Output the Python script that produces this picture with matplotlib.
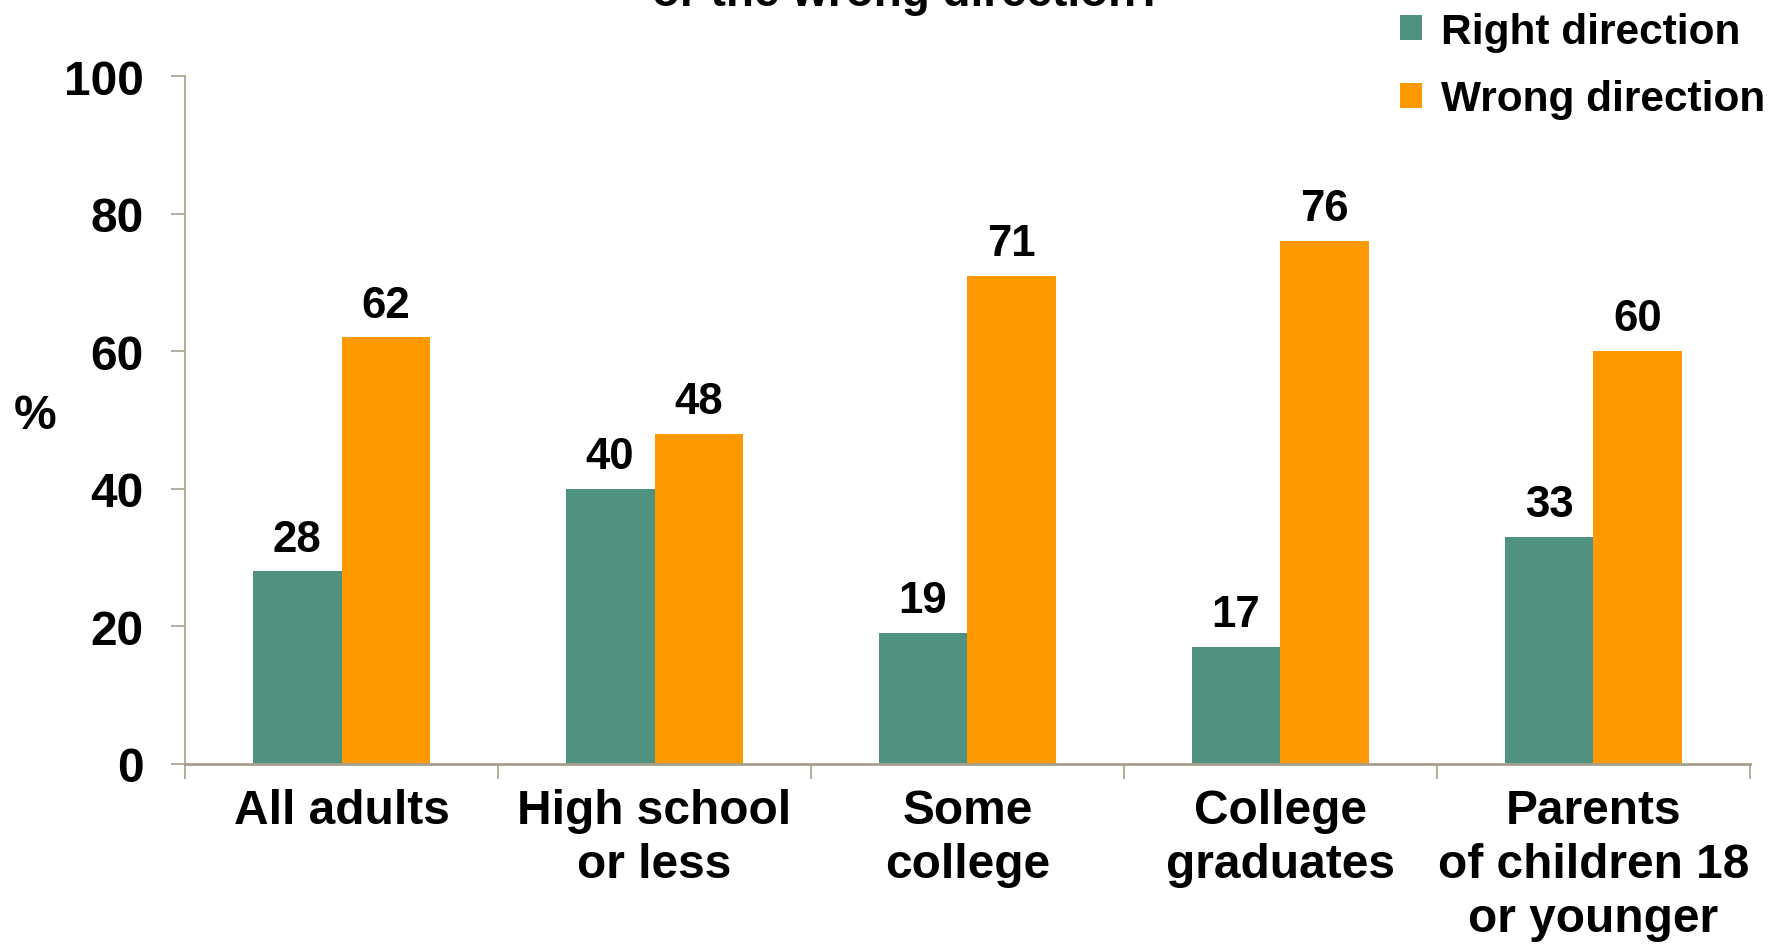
import matplotlib
matplotlib.use("Agg")
import matplotlib.pyplot as plt
import numpy as np

plt.rcParams['font.family'] = ['Liberation Sans', 'DejaVu Sans']
plt.rcParams['font.weight'] = 'bold'

categories = ["All adults", "High school\nor less", "Some\ncollege",
              "College\ngraduates", "Parents\nof children 18\nor younger"]
right_direction = [28, 40, 19, 17, 33]
wrong_direction = [62, 48, 71, 76, 60]
series_names = ["Right direction", "Wrong direction"]
y_ticks = [0, 20, 40, 60, 80, 100]

green = "#4F9280"
orange = "#FF9900"
axis_col = "#A8A08E"

fig = plt.figure(figsize=(17.88, 9.45), dpi=100)
ax = fig.add_axes([0.1035, 0.1905, 0.8752, 0.728])

x = np.arange(len(categories))
w = 0.284
b1 = ax.bar(x - w / 2, right_direction, w, color=green, label=series_names[0])
b2 = ax.bar(x + w / 2, wrong_direction, w, color=orange, label=series_names[1])

for bars, vals in ((b1, right_direction), (b2, wrong_direction)):
    for r, v in zip(bars, vals):
        ax.annotate(str(v), (r.get_x() + r.get_width() / 2, v),
                    xytext=(0, 8.5), textcoords="offset points",
                    ha="center", va="bottom", fontsize=31.5, fontweight="bold")

ax.set_xlim(-0.5, len(categories) - 0.5)
ax.set_ylim(0, 100)
ax.set_yticks(y_ticks)
ax.set_yticklabels([str(t) for t in y_ticks], fontsize=34.5, fontweight="bold")
ax.set_xticks(x)
ax.set_xticklabels(categories, fontsize=34.5, fontweight="bold", linespacing=1.27)
ax.set_xticks(np.arange(-0.5, len(categories)), minor=True)
ax.tick_params(axis="x", which="major", length=0, pad=17)
ax.tick_params(axis="x", which="minor", length=11, width=1.2, color=axis_col, direction="out")
ax.tick_params(axis="y", length=10, width=1.2, color=axis_col, direction="out", pad=20)

for s in ("top", "right"):
    ax.spines[s].set_visible(False)
ax.spines["left"].set_color(axis_col)
ax.spines["left"].set_linewidth(1.2)
ax.spines["bottom"].set_color(axis_col)
ax.spines["bottom"].set_linewidth(2.0)

ax.set_ylabel("%", fontsize=34.5, fontweight="bold", rotation=0, labelpad=0, va="center", ha="center")
ax.yaxis.set_label_coords(-0.096, 0.507)

fig.text(0.508, 1 - 6 / 945, "Do you think things are going in the right direction\nor the wrong direction?",
         ha="center", va="baseline", fontsize=33, fontweight="bold", linespacing=1.0)

leg = fig.legend(handles=[b1, b2], loc="upper left", bbox_to_anchor=(1383 / 1788, 1 + 4 / 945),
                 frameon=False, fontsize=30.5, handlelength=0.53, handleheight=0.53,
                 handletextpad=0.45, labelspacing=0.64, borderaxespad=0)
for t in leg.get_texts():
    t.set_fontweight("bold")

fig.savefig("out.png", dpi=100)
